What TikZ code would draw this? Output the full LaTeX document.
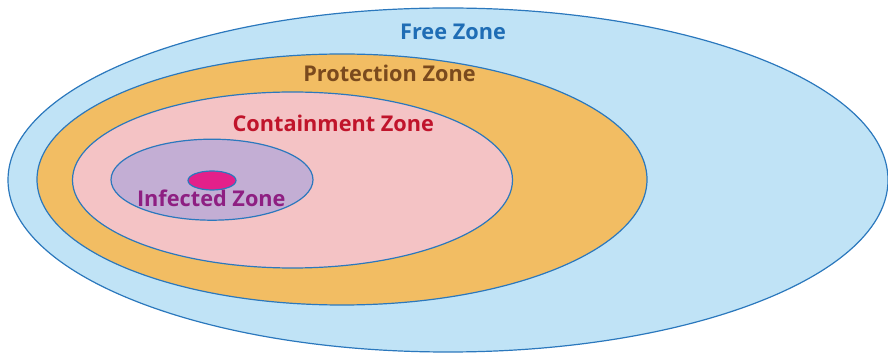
\documentclass[tikz,border=0pt]{standalone}
\usepackage{fontspec}
\setmainfont{Open Sans}
\usetikzlibrary{shapes.geometric}
\definecolor{edgeblue}{HTML}{2B78BD}
\definecolor{freefill}{HTML}{C0E3F6}
\definecolor{protfill}{HTML}{F2BD63}
\definecolor{contfill}{HTML}{F4C3C5}
\definecolor{inffill}{HTML}{C3AED4}
\definecolor{corefill}{HTML}{E3208A}
\definecolor{freetext}{HTML}{1F6DB5}
\definecolor{prottext}{HTML}{7A4A1E}
\definecolor{conttext}{HTML}{C0142B}
\definecolor{inftext}{HTML}{8E1F82}
\tikzset{
  zone/.style={ellipse, draw=edgeblue, line width=1.2pt, inner sep=0pt},
  zonelabel/.style={font=\fontsize{21.7}{21.7}\selectfont\bfseries, anchor=base, inner sep=0pt}
}
\begin{document}
\begin{tikzpicture}[x=1pt,y=1pt]
\useasboundingbox (0,0) rectangle (888,353);
\node[zone, fill=freefill, minimum width=880, minimum height=344] (free) at (448,173) {};
\node[zone, fill=protfill, minimum width=610, minimum height=251] (prot) at (342,173.5) {};
\node[zone, fill=contfill, minimum width=440, minimum height=176] (cont) at (292.5,173) {};
\node[zone, fill=inffill, minimum width=202, minimum height=81] (inf) at (212,173.3) {};
\node[zone, fill=corefill, minimum width=48, minimum height=19] (core) at (212,172.5) {};
\node[zonelabel, text=freetext] (freel) at (453,313.7) {Free Zone};
\node[zonelabel, text=prottext] (protl) at (389.5,271.3) {Protection Zone};
\node[zonelabel, text=conttext] (contl) at (333.3,221.3) {Containment Zone};
\node[zonelabel, text=inftext] (infl) at (211.3,146.3) {Infected Zone};
\end{tikzpicture}
\end{document}
